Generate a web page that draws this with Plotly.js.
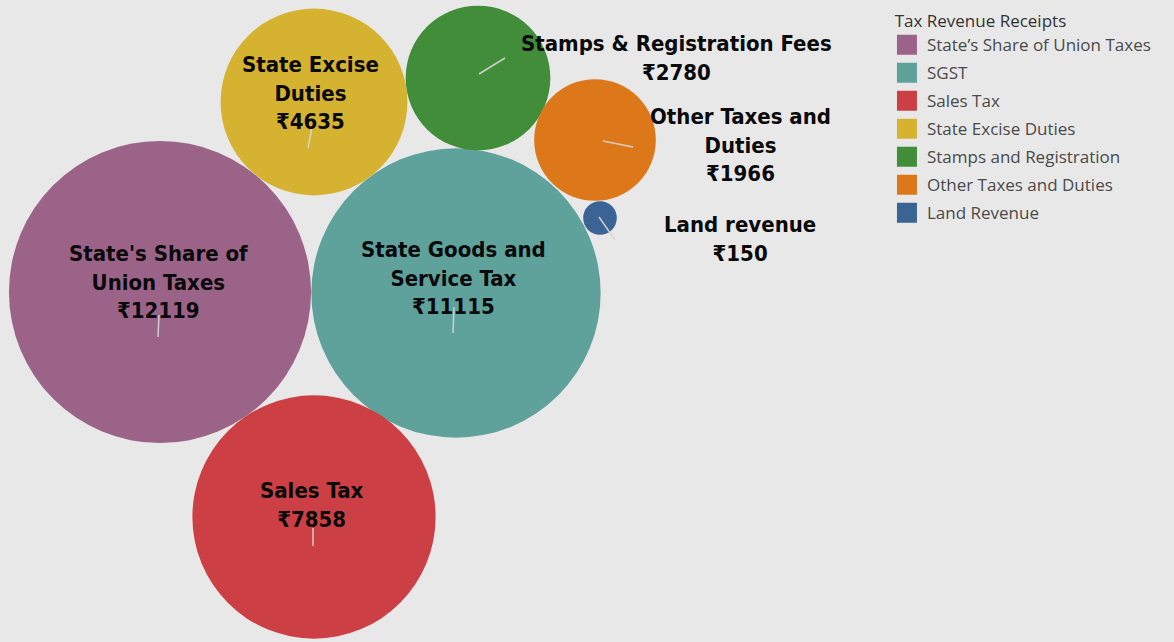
<!DOCTYPE html>
<html>
<head>
<meta charset="utf-8">
<script src="https://cdn.plot.ly/plotly-3.0.1.min.js"></script>
<style>html,body{margin:0;padding:0;background:#e8e8e8;}#chart{width:1174px;height:642px;}</style>
</head>
<body>
<div id="chart"></div>
<script>
// ---- data ----
const categories = ["State’s Share of Union Taxes", "SGST", "Sales Tax", "State Excise Duties", "Stamps and Registration", "Other Taxes and Duties", "Land Revenue"];
const bubbleLabels = ["State's Share of<br>Union Taxes", "State Goods and<br>Service Tax", "Sales Tax", "State Excise<br>Duties", "Stamps & Registration Fees", "Other Taxes and<br>Duties", "Land revenue"];
const values = [12119, 11115, 7858, 4635, 2780, 1966, 150];
const currency = "\u20B9";
const legendTitle = "Tax Revenue Receipts";

// ---- layout (packed-bubble positions, pixel space) ----
const centerX = [160, 456, 314, 314, 478, 595, 600];
const centerY = [292, 293, 517, 102, 78, 140, 218];
const labelX = [158, 453, 312, 310, 676, 740, 740];
const labelY = [282, 278, 505, 93, 58, 145, 239];
const leaderFrom = [[159,315],[454,307],[313,528],[312,127],[505,58],[603,141],[599,217]];
const leaderTo = [[158,337],[453,333],[313,546],[308,148],[479,74],[633,147],[615,240]];
const colors = ["#9c6389", "#5fa19b", "#cc4045", "#d6b231", "#428d3a", "#dd781a", "#3a6493"];

const traces = [];
categories.forEach((c, i) => {
  traces.push({
    type: 'scatter', mode: 'markers', x: [centerX[i]], y: [centerY[i]],
    name: c, showlegend: false, legendgroup: 'g' + i, cliponaxis: false,
    hovertemplate: c + ': ' + currency + values[i] + '<extra></extra>',
    marker: { size: [values[i]], sizemode: 'area', sizeref: 0.2656, color: colors[i], opacity: 1, line: { width: 0 } }
  });
});
categories.forEach((c, i) => {
  traces.push({
    type: 'scatter', mode: 'markers', x: [null], y: [null],
    name: c, showlegend: true, legendgroup: 'g' + i, hoverinfo: 'skip',
    marker: { symbol: 'square', size: 16, color: colors[i], line: { width: 4, color: colors[i] } }
  });
});

const annotations = categories.map((c, i) => ({
  x: labelX[i], y: labelY[i], xref: 'x', yref: 'y', showarrow: false,
  text: bubbleLabels[i] + '<br>' + currency + values[i],
  align: 'center', xanchor: 'center', yanchor: 'middle',
  font: { family: 'DejaVu Sans Condensed, DejaVu Sans', size: 22, color: '#0a0a0a', weight: 'bold' }
}));

const shapes = categories.map((c, i) => ({
  type: 'line', xref: 'x', yref: 'y',
  x0: leaderFrom[i][0], y0: leaderFrom[i][1], x1: leaderTo[i][0], y1: leaderTo[i][1],
  line: { color: 'rgba(215,215,215,0.9)', width: 1.5 }
}));

const layout = {
  width: 1174, height: 642,
  margin: { l: 0, r: 0, t: 0, b: 0 },
  paper_bgcolor: '#e8e8e8', plot_bgcolor: '#e8e8e8',
  xaxis: { range: [0, 1174], visible: false, fixedrange: true },
  yaxis: { range: [642, 0], visible: false, fixedrange: true },
  showlegend: true,
  legend: {
    x: 0.7555, y: 0.992, xanchor: 'left', yanchor: 'top',
    bgcolor: 'rgba(0,0,0,0)', traceorder: 'grouped', tracegroupgap: 2.9,
    font: { family: 'Open Sans', size: 17, color: '#4a4a4a' },
    title: { text: '\u2006\u2006' + legendTitle, font: { family: 'Open Sans', size: 17, color: '#333' } },
    itemsizing: 'trace'
  },
  annotations: annotations,
  shapes: shapes,
  hovermode: 'closest'
};

Plotly.newPlot('chart', traces, layout, { displayModeBar: false, responsive: false });
</script>
</body>
</html>
